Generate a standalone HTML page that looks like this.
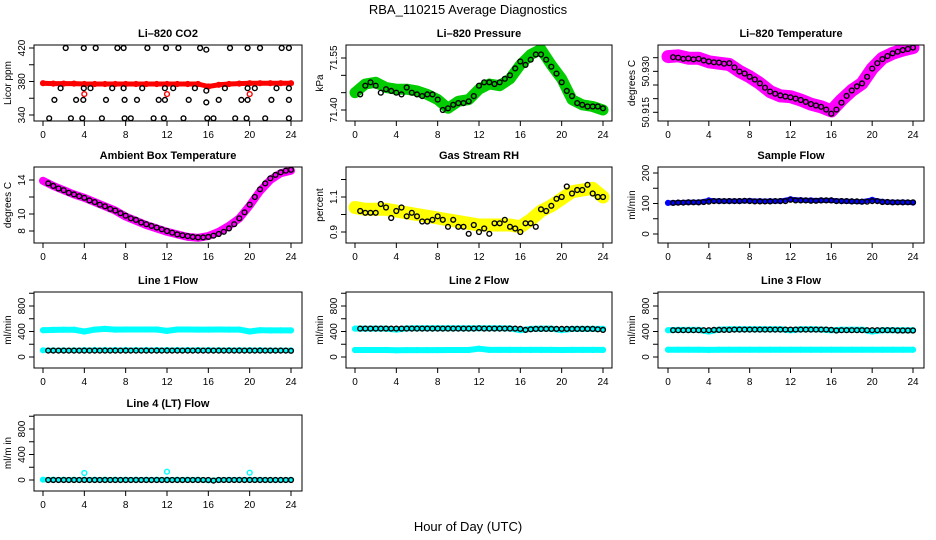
<!DOCTYPE html>
<html><head><meta charset="utf-8">
<style>
html,body{margin:0;padding:0;background:#fff;}
svg{display:block;font-family:"Liberation Sans",sans-serif;}
</style></head>
<body>
<svg id="fig" width="936" height="540" viewBox="0 0 936 540" xmlns="http://www.w3.org/2000/svg">
<rect width="936" height="540" fill="#fff"/>
<text x="468" y="14" text-anchor="middle" font-size="13">RBA_110215  Average Diagnostics</text>
<text x="468" y="531" text-anchor="middle" font-size="13">Hour of Day (UTC)</text>
</svg>
<script>
// shared x values
const bandHours = [0,1,2,3,4,5,6,7,8,9,10,11,12,13,14,15,16,17,18,19,20,21,22,23,24];
const meanHours = [0.5,1,1.5,2,2.5,3,3.5,4,4.5,5,5.5,6,6.5,7,7.5,8,8.5,9,9.5,10,10.5,11,11.5,12,12.5,13,13.5,14,14.5,15,15.5,16,16.5,17,17.5,18,18.5,19,19.5,20,20.5,21,21.5,22,22.5,23,23.5,24];
const xTicks = [0,4,8,12,16,20,24];

// CO2
const co2Band = [378,377.5,377.5,377.5,377,377,377,377,377,377,377,377,377,377,377,377,374,376,377,377.5,378,378,378,378,378];
const co2MeanHours = [2.2,3.95,5.1,7.2,7.8,10.1,11.9,13.1,15.2,15.8,18.1,19.8,21.0,23.1,23.8,1.7,3.95,4.6,6.7,7.8,9.6,11.8,12.6,14.7,15.8,17.6,19.8,20.5,22.6,23.8,1.1,3.2,3.9,6.1,7.9,9.1,11.2,11.8,14.1,15.8,17.0,19.2,19.8,22.1,23.8,0.6,2.7,3.8,5.7,7.9,8.5,10.7,11.7,13.6,15.9,16.5,18.6,19.7,21.5,23.8];
const co2Means = [420,420,420,420,420,420,420,420,420,418,420,420,420,420,420,372,372,372,372,372,372,372,372,372,369,372,372,372,372,372,358,358,358,358,358,358,358,358,358,355,358,358,358,358,358,336,336,336,336,336,336,336,336,336,336,336,336,336,336,336];
const co2OutHours = [4,12,20];
const co2Out = [365,365,365];

// Pressure
const presBand = [71.45,71.475,71.48,71.465,71.46,71.46,71.455,71.445,71.43,71.405,71.425,71.43,71.46,71.475,71.47,71.49,71.53,71.56,71.575,71.53,71.49,71.43,71.415,71.41,71.40];
const presMeans = [71.445,71.47,71.48,71.47,71.45,71.46,71.455,71.45,71.445,71.465,71.45,71.445,71.44,71.445,71.445,71.43,71.40,71.405,71.415,71.42,71.42,71.425,71.44,71.47,71.48,71.48,71.475,71.48,71.49,71.50,71.52,71.54,71.53,71.545,71.56,71.56,71.545,71.525,71.505,71.48,71.455,71.44,71.42,71.415,71.41,71.41,71.41,71.405];

// Li-820 temperature
const tempBand = [50.9354,50.9357,50.9348,50.9348,50.9335,50.933,50.9325,50.930,50.928,50.9256,50.9226,50.921,50.9207,50.9195,50.918,50.917,50.9155,50.9195,50.923,50.9256,50.931,50.9348,50.9366,50.9378,50.9387];
const tempMeans = [50.9352,50.9350,50.9346,50.9347,50.9344,50.9346,50.9340,50.9336,50.9333,50.9332,50.9328,50.9330,50.9314,50.9299,50.9292,50.9280,50.9270,50.9256,50.9240,50.9226,50.9218,50.9212,50.9208,50.9205,50.9200,50.9195,50.9188,50.9180,50.9175,50.9170,50.9160,50.9145,50.9160,50.9185,50.9210,50.9230,50.9245,50.9256,50.9280,50.9310,50.9330,50.9345,50.9356,50.9366,50.9372,50.9378,50.9382,50.9387];

// Ambient box temperature
const ambBand = [13.9,13.3,12.8,12.3,11.9,11.4,10.9,10.4,9.7,9.2,8.7,8.3,7.9,7.6,7.3,7.2,7.4,7.9,8.6,9.5,11.0,12.7,14.0,14.8,15.1];
const ambMeans = [13.6,13.3,13.0,12.8,12.5,12.3,12.1,11.9,11.6,11.4,11.1,10.9,10.6,10.4,10.1,9.8,9.5,9.3,9.0,8.8,8.6,8.4,8.2,8.0,7.8,7.6,7.5,7.4,7.3,7.25,7.25,7.3,7.45,7.65,7.9,8.3,8.8,9.5,10.2,11.1,12.0,12.9,13.6,14.2,14.6,14.9,15.1,15.2];

// Gas stream RH
const rhBand = [1.04,1.03,1.03,1.03,1.02,1.01,1.0,0.99,0.98,0.97,0.96,0.95,0.94,0.94,0.94,0.94,0.93,0.97,1.02,1.05,1.09,1.13,1.14,1.15,1.10];
const rhMeans = [1.02,1.01,1.01,1.01,1.06,1.04,0.98,1.02,1.04,0.99,1.01,0.99,0.96,0.96,0.97,0.99,0.97,0.93,0.97,0.93,0.93,0.89,0.94,0.90,0.92,0.89,0.95,0.95,0.97,0.93,0.92,0.90,0.95,0.95,0.93,1.03,1.02,1.05,1.09,1.10,1.16,1.12,1.14,1.14,1.17,1.12,1.10,1.10];

// Sample flow
const sampleBand = [102,103,104,104,110,108,108,108,109,108,108,108,114,111,110,110,110,108,107,106,112,106,104,104,103];
const sampleMeans = [102,103,103,104,104,104,105,106,108,108,108,108,108,108,109,108,107,107,107,107,108,108,108,112,110,110,110,109,109,110,110,110,108,108,108,107,107,106,106,108,108,105,105,104,104,104,104,104];

// Line flows
const line1Upper = [420,425,428,428,400,430,440,430,432,432,432,432,410,432,432,430,430,432,430,430,400,420,418,418,418];
const line1Lower = [105,105,105,105,108,110,110,110,110,110,110,110,110,110,110,110,110,108,108,108,108,108,105,105,105];
const line1Means = [100,100,100,100,100,100,100,100,100,100,100,100,100,100,100,100,100,100,100,100,100,100,100,100,100,100,100,100,100,100,100,100,100,100,100,100,100,100,100,100,100,100,100,100,100,100,100,98];
const line2Upper = [445,445,445,445,430,448,450,450,450,450,450,450,450,450,450,448,420,440,445,445,420,440,440,440,440];
const line2Lower = [110,110,110,110,105,108,108,108,108,110,110,110,130,112,112,112,112,112,112,112,110,112,112,112,112];
const line2Means = [445,445,445,445,445,445,445,445,445,445,445,445,445,445,445,445,445,445,445,445,445,445,445,450,445,445,445,445,445,445,445,440,425,435,440,440,440,440,440,440,440,440,440,440,440,440,435,425];
const line3Upper = [420,425,425,425,400,430,435,435,435,435,435,435,420,435,435,432,420,428,428,428,400,420,420,420,420];
const line3Lower = [115,115,115,115,112,115,115,115,115,115,115,115,115,115,115,115,115,115,115,115,115,115,115,115,115];
const line3Means = [420,420,420,420,420,420,420,420,425,425,425,425,430,430,430,430,430,430,430,430,430,430,430,430,430,430,430,430,430,430,430,425,415,420,420,420,420,420,420,420,420,420,420,420,415,415,415,415];
const line4Band = [5,5,5,5,5,5,5,5,5,5,5,5,5,5,5,5,-5,0,3,3,3,3,0,0,3];
const line4OutHours = [4,12,20];
const line4Out = [110,130,115];
const line4Means = [0,0,0,0,0,0,0,0,0,0,0,0,0,0,0,0,0,0,0,0,0,0,0,0,0,0,0,0,0,0,0,0,-10,0,0,0,0,0,0,0,0,0,0,0,0,0,0,0];

// tick arrays
const co2Ticks = [340,360,380,400,420]; const co2Labels = ['340','','380','','420'];
const presTicks = [71.40,71.45,71.50,71.55]; const presLabels = ['71.40','','','71.55'];
const tempTicks = [50.915,50.920,50.925,50.930,50.935]; const tempLabels = ['50.915','','','50.930',''];
const ambTicks = [8,10,12,14]; const ambLabels = ['8','10','','14'];
const rhTicks = [0.9,1.0,1.1,1.2]; const rhLabels = ['0.9','','1.1',''];
const sampleTicks = [0,50,100,150,200]; const sampleLabels = ['0','','100','','200'];
const flowTicks = [0,200,400,600,800,1000]; const flowLabels = ['0','','400','','800',''];

const NS = 'http://www.w3.org/2000/svg';
const fig = document.getElementById('fig');
const cols = [{bl:34,br:302,x0:43,x24:291},{bl:346,br:612,x0:355,x24:603},{bl:658,br:924,x0:668,x24:913}];
const rows = [45,167,292,415];
const BH = 76;

function mk(tag, attrs, parent){const e=document.createElementNS(NS,tag);for(const k in attrs)e.setAttribute(k,attrs[k]);parent.appendChild(e);return e;}

function panel(name, title, yTitle, r, c, v1, y1, v2, y2, ticks, labels, layers){
  const col = cols[c], top = rows[r], bot = top + BH;
  const g = mk('g',{},fig);
  
  
  const xs = h => col.x0 + (col.x24 - col.x0) * h / 24;
  const ys = v => y1 + (v - v1) * (y2 - y1) / (v2 - v1);
  const clipId = 'clip-' + name;
  const cp = mk('clipPath',{id:clipId},g);
  mk('rect',{x:col.bl,y:top,width:col.br-col.bl,height:BH},cp);
  const t = mk('text',{x:(col.bl+col.br)/2,y:top-8,'text-anchor':'middle','font-size':'11','font-weight':'bold'},g);
  t.textContent = title;
  
  
  const data = mk('g',{'clip-path':'url(#'+clipId+')'},g);
  
  
  layers.forEach(L => {
    if (L.band) {
      const pts = L.hx.map((h,i)=>xs(h).toFixed(1)+','+ys(L.vals[i]).toFixed(1)).join(' ');
      const pl = mk('polyline',{points:pts,fill:'none',stroke:L.color,'stroke-width':L.band,'stroke-linejoin':'round','stroke-linecap':'round'},data);
      
      
    }
    L.hx.forEach((h,i)=>{
      const ci = mk('circle',{cx:xs(h).toFixed(1),cy:ys(L.vals[i]).toFixed(1),r:2.4,fill:'none',stroke:L.color,'stroke-width':1.4},data);
      
      
    });
  });
  const box = mk('rect',{x:col.bl,y:top,width:col.br-col.bl,height:BH,fill:'none',stroke:'#000','stroke-width':1},g);
  
  
  xTicks.forEach(h=>{
    mk('line',{x1:xs(h),x2:xs(h),y1:bot,y2:bot+5,stroke:'#000'},g);
    const tl = mk('text',{x:xs(h),y:bot+17,'text-anchor':'middle','font-size':'10'},g);
    tl.textContent = h;
    
    
  });
  mk('line',{x1:xs(0),x2:xs(24),y1:bot,y2:bot,stroke:'#000'},g);
  ticks.forEach((v,i)=>{
    const y = ys(v);
    mk('line',{x1:col.bl-5,x2:col.bl,y1:y,y2:y,stroke:'#000'},g);
    if (labels[i]) {
      const tx = col.bl - 9;
      const tl = mk('text',{x:tx,y:y,'text-anchor':'middle','font-size':'10',transform:'rotate(-90 '+tx+' '+y+')'},g);
      tl.textContent = labels[i];
      
      
    }
  });
  mk('line',{x1:col.bl,x2:col.bl,y1:ys(ticks[0]),y2:ys(ticks[ticks.length-1]),stroke:'#000'},g);
  const ax = col.bl - 23, ay = (top+bot)/2;
  const yt = mk('text',{x:ax,y:ay,'text-anchor':'middle','font-size':'10',transform:'rotate(-90 '+ax+' '+ay+')'},g);
  yt.textContent = yTitle;
  
  
}

panel('co2','Li\u2013820 CO2','Licor ppm',0,0,420,48,340,115,co2Ticks,co2Labels,[
  {hx:bandHours,vals:co2Band,color:'#ff0000',band:5},
  {hx:co2OutHours,vals:co2Out,color:'#ff0000'},
  {hx:co2MeanHours,vals:co2Means,color:'#000'}]);
panel('pressure','Li\u2013820 Pressure','kPa',0,1,71.55,58,71.40,110,presTicks,presLabels,[
  {hx:bandHours,vals:presBand,color:'#00cc00',band:11},
  {hx:meanHours,vals:presMeans,color:'#000'}]);
panel('li820-temp','Li\u2013820 Temperature','degrees C',0,2,50.915,112.3,50.935,57.7,tempTicks,tempLabels,[
  {hx:bandHours,vals:tempBand,color:'#ff00ff',band:13},
  {hx:meanHours,vals:tempMeans,color:'#000'}]);
panel('ambient-temp','Ambient Box Temperature','degrees C',1,0,14,180,8,231,ambTicks,ambLabels,[
  {hx:bandHours,vals:ambBand,color:'#ff00ff',band:8},
  {hx:meanHours,vals:ambMeans,color:'#000'}]);
panel('rh','Gas Stream RH','percent',1,1,1.1,197,0.9,232,rhTicks,rhLabels,[
  {hx:bandHours,vals:rhBand,color:'#ffff00',band:13},
  {hx:meanHours,vals:rhMeans,color:'#000'}]);
panel('sample-flow','Sample Flow','ml/min',1,2,200,173,0,234,sampleTicks,sampleLabels,[
  {hx:bandHours,vals:sampleBand,color:'#0000ff',band:5},
  {hx:meanHours,vals:sampleMeans,color:'#000'}]);
panel('line1-flow','Line 1 Flow','ml/min',2,0,0,357,800,306,flowTicks,flowLabels,[
  {hx:bandHours,vals:line1Upper,color:'#00ffff',band:6},
  {hx:bandHours,vals:line1Lower,color:'#00ffff',band:5},
  {hx:meanHours,vals:line1Means,color:'#000'}]);
panel('line2-flow','Line 2 Flow','ml/min',2,1,0,357,800,306,flowTicks,flowLabels,[
  {hx:bandHours,vals:line2Upper,color:'#00ffff',band:6},
  {hx:bandHours,vals:line2Lower,color:'#00ffff',band:6},
  {hx:meanHours,vals:line2Means,color:'#000'}]);
panel('line3-flow','Line 3 Flow','ml/min',2,2,0,357,800,306,flowTicks,flowLabels,[
  {hx:bandHours,vals:line3Upper,color:'#00ffff',band:6},
  {hx:bandHours,vals:line3Lower,color:'#00ffff',band:6},
  {hx:meanHours,vals:line3Means,color:'#000'}]);
panel('line4-flow','Line 4 (LT) Flow','ml/m in',3,0,0,480,800,429,flowTicks,flowLabels,[
  {hx:bandHours,vals:line4Band,color:'#00ffff',band:5},
  {hx:line4OutHours,vals:line4Out,color:'#00ffff'},
  {hx:meanHours,vals:line4Means,color:'#000'}]);
</script>
</body></html>
